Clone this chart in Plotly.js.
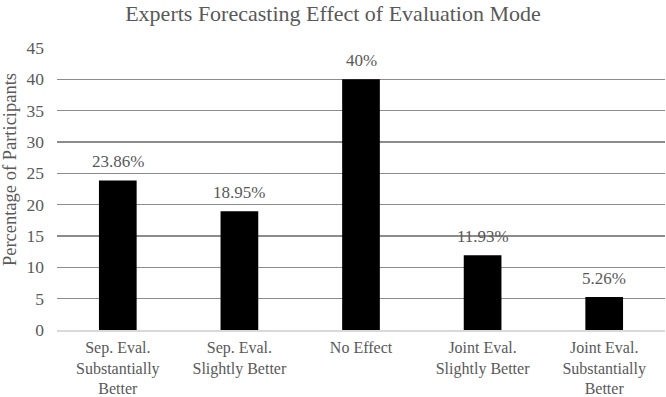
<!DOCTYPE html>
<html>
<head>
<meta charset="utf-8">
<script src="https://cdn.plot.ly/plotly-3.0.1.min.js"></script>
<style>
  html, body { margin: 0; padding: 0; background: #fff; }
  #chart { width: 666px; height: 397px; }
</style>
</head>
<body>
<div id="chart"></div>
<script>
// Survey responses: share of experts per forecast category
const categories = [
  "Sep. Eval.<br>Substantially<br>Better",
  "Sep. Eval.<br>Slightly Better",
  "No Effect",
  "Joint Eval.<br>Slightly Better",
  "Joint Eval.<br>Substantially<br>Better"
];
const percentages = [23.86, 18.95, 40, 11.93, 5.26];
const valueLabels = ["23.86%", "18.95%", "40%", "11.93%", "5.26%"];
const yTicks = [0, 5, 10, 15, 20, 25, 30, 35, 40, 45];

const serifFamily = "Liberation Serif";
const textGray = "#595959";

const trace = {
  type: "bar",
  x: categories,
  y: percentages,
  marker: { color: "#000000", line: { width: 0 } },
  hoverinfo: "none"
};

// Value labels sit a little above each bar top
const valueAnnotations = categories.map((cat, i) => ({
  x: cat,
  y: percentages[i],
  xref: "x",
  yref: "y",
  text: valueLabels[i],
  showarrow: false,
  yanchor: "bottom",
  yshift: 7,
  font: { family: serifFamily, size: 17, color: textGray }
}));

// Y-axis caption, placed as an annotation so it can sit slightly above centre
const yCaption = {
  text: "Percentage of Participants",
  xref: "paper",
  yref: "paper",
  x: 0,
  y: 0.567,
  xshift: -47,
  xanchor: "center",
  yanchor: "middle",
  textangle: -90,
  showarrow: false,
  font: { family: serifFamily, size: 18.5, color: textGray }
};

const layout = {
  width: 666,
  height: 397,
  margin: { l: 57, r: 1, t: 48, b: 67 },
  paper_bgcolor: "#ffffff",
  plot_bgcolor: "#ffffff",
  bargap: 0.69,
  showlegend: false,
  font: { family: serifFamily, color: textGray },
  title: {
    text: "Experts Forecasting Effect of Evaluation Mode",
    font: { family: serifFamily, size: 22, color: textGray },
    x: 0.5,
    xanchor: "center",
    y: 0.966,
    yanchor: "middle"
  },
  xaxis: {
    type: "category",
    tickfont: { family: serifFamily, size: 16, color: textGray },
    showgrid: false,
    showline: true,
    linecolor: "#d9d9d9",
    linewidth: 1.5,
    ticks: "",
    tickangle: 0,
    ticklabelstandoff: 2,
    fixedrange: true
  },
  yaxis: {
    range: [0, 45],
    tickvals: yTicks,
    ticktext: yTicks.map(String),
    tickfont: { family: serifFamily, size: 17.5, color: textGray },
    showgrid: true,
    gridcolor: "#8c8c8c",
    gridwidth: 1.3,
    zeroline: false,
    showline: false,
    ticks: "",
    ticklabelstandoff: 12,
    fixedrange: true
  },
  annotations: valueAnnotations.concat([yCaption])
};

Plotly.newPlot("chart", [trace], layout, { displayModeBar: false, staticPlot: true });
</script>
</body>
</html>
